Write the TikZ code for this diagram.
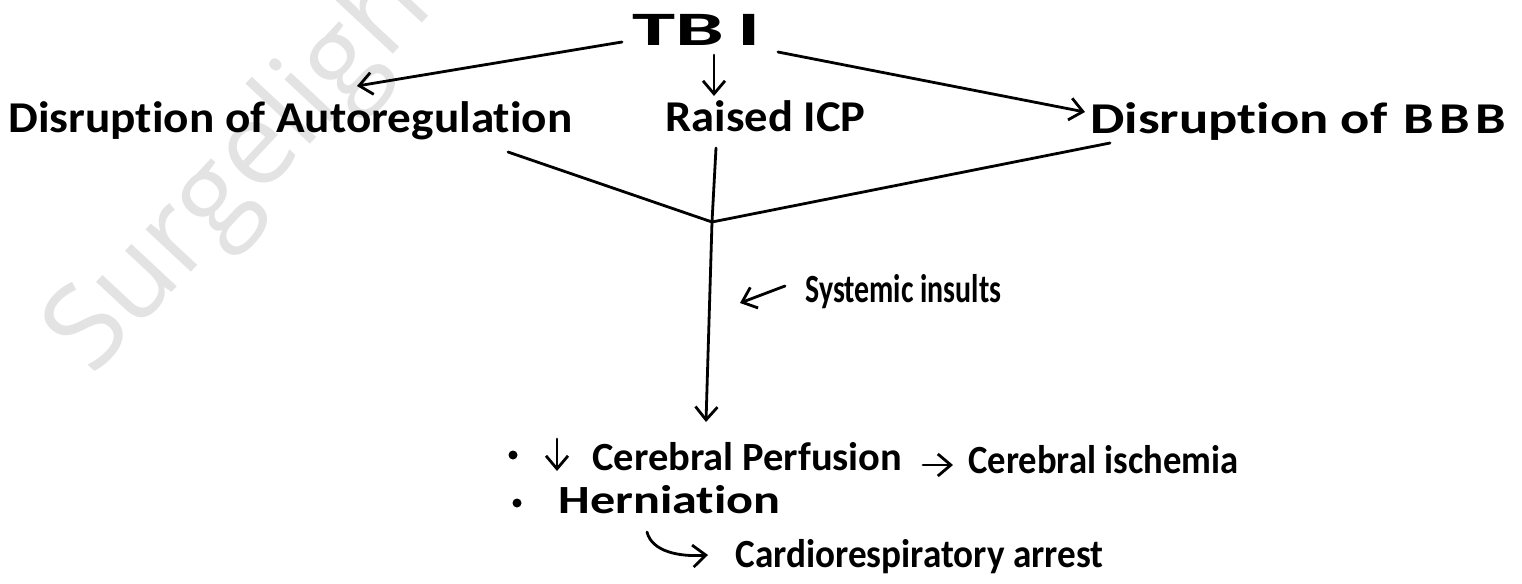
\documentclass[tikz,border=0pt]{standalone}
\usepackage{fontspec}
\setmainfont{Carlito}[Ligatures=NoCommon]
\newfontfamily\wmfont{Open Sans}
\usetikzlibrary{arrows.meta}
% squeeze a text horizontally to a given width, keeping its height
\newcommand\wfit[2]{\resizebox{#1}{\height}{#2}}
\tikzset{
  hand/.style={anchor=base west, inner sep=0pt, font=\fontsize{22}{24}\selectfont\bfseries},
  small/.style={font=\fontsize{20}{22}\selectfont\bfseries},
  conn/.style={line width=1.4pt, line cap=round, line join=round},
  arr/.style={conn, -{Straight Barb[length=6.5pt,width=11pt,line width=1.4pt]}},
  bul/.style={circle, fill, inner sep=0pt, minimum size=4.5pt},
  wmark/.style={text=black!11, font=\fontsize{58}{60}\selectfont\wmfont, rotate=47,
                anchor=base west, inner sep=0pt},
}
\begin{document}
\begin{tikzpicture}[x=0.5pt,y=-0.5pt]
\useasboundingbox (0,0) rectangle (1522,584);

% watermark
\node[wmark] (wm) at (92,378) {Surgelight};

% top level
\node[hand, font=\fontsize{24}{26}\selectfont\bfseries] (tbi) at (632,45) {\wfit{64pt}{TB\hspace{0.15em}I}};
\node[hand] (auto) at (8,132) {\wfit{282pt}{Disruption of Autoregulation}};
\node[hand] (icp)  at (665,131) {\wfit{100pt}{Raised ICP}};
\node[hand] (bbb)  at (1090,133) {\wfit{208pt}{Disruption of\hspace{0.3em}B\hspace{0.1em}B\hspace{0.1em}B}};

% connector end points
\coordinate (tbiL) at (622,42);
\coordinate (autoT) at (357,86);
\coordinate (tbiD) at (714,55);
\coordinate (icpT) at (714,96);
\coordinate (tbiR) at (778,52);
\coordinate (bbbT) at (1085,112);
\coordinate (autoB) at (508,152);
\coordinate (icpB) at (716,148);
\coordinate (bbbB) at (1110,143);
\coordinate (junc) at (712,222);
\coordinate (outT) at (706,422);

\draw[arr] (tbiL) -- (autoT);
\draw[arr] (tbiD) -- (icpT);
\draw[arr] (tbiR) -- (bbbT);
\draw[conn] (autoB) -- (junc);
\draw[conn] (icpB) -- (junc);
\draw[conn] (bbbB) -- (junc);
\draw[arr] (junc) -- (outT);

% systemic insults
\node[hand, small] (sys) at (805,302) {\wfit{98pt}{Systemic insults}};
\coordinate (sysA) at (785,286);
\coordinate (sysB) at (740,303);
\draw[arr] (sysA) -- (sysB);

% outcomes
\node[bul] (b1) at (513,455) {};
\node[bul] (b2) at (517,503) {};
\coordinate (dnA) at (557,439);
\coordinate (dnB) at (557,471);
\draw[arr] (dnA) -- (dnB);
\node[hand, small] (perf) at (592,470) {\wfit{155pt}{Cerebral Perfusion}};
\node[hand, small] (isch) at (968,473) {\wfit{135pt}{Cerebral ischemia}};
\coordinate (piA) at (923,465);
\coordinate (piB) at (953,465);
\draw[arr] (piA) -- (piB);
\node[hand, small] (hern) at (558,513) {\wfit{111pt}{Herniation}};
\node[hand, small] (card) at (735,567) {\wfit{184pt}{Cardiorespiratory arrest}};
\coordinate (hcA) at (647,532);
\coordinate (hcB) at (708,555);
\draw[arr] (hcA) .. controls (652,552) and (680,557) .. (hcB);
\end{tikzpicture}
\end{document}
